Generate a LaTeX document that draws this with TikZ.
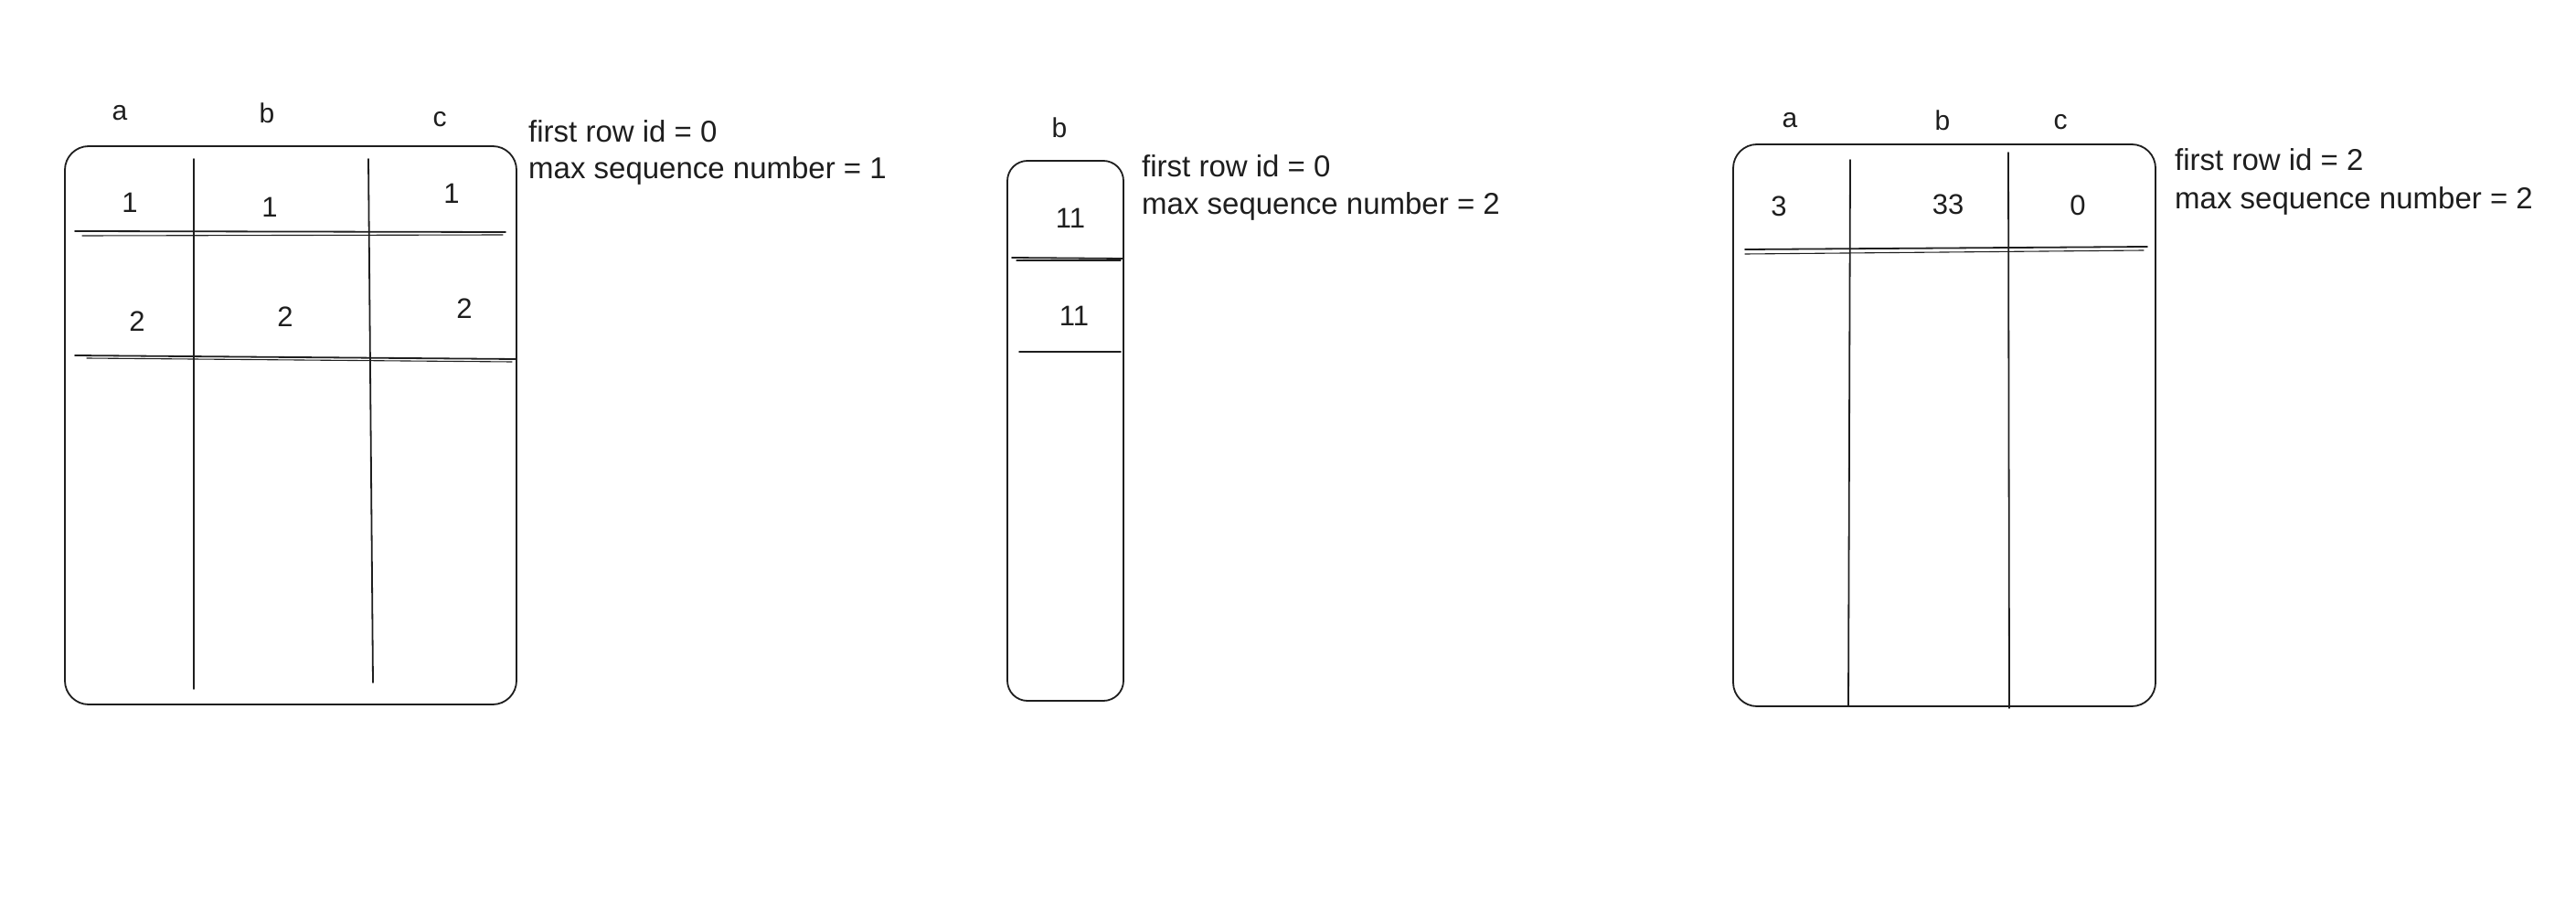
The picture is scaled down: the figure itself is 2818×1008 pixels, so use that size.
\documentclass[tikz,border=0pt]{standalone}
\usepackage{fontspec}
\setmainfont{Liberation Sans}
\definecolor{ink}{HTML}{1E1E1E}
\begin{document}
\begin{tikzpicture}[x=1pt,y=-1pt,
  ln/.style={draw=ink,line width=1.8pt,line cap=round},
  thin/.style={draw=ink,line width=1.1pt,line cap=round},
  tbox/.style={draw=ink,line width=1.8pt,rounded corners=26pt,inner sep=0pt},
  col/.style={anchor=base,text=ink,font=\fontsize{30}{33}\selectfont},
  cell/.style={anchor=base,text=ink,font=\fontsize{31}{34}\selectfont},
  note/.style={anchor=base west,text=ink,inner sep=0pt,font=\fontsize{33}{36}\selectfont}]
\useasboundingbox (0,0) rectangle (2818,1008);
\fill[white] (0,0) rectangle (2818,1008);

% ---------- table 1 ----------
\node[tbox,minimum width=494pt,minimum height=611pt] (t1) at (318,465.5) {};
\draw[ln] (212,174) -- (212,754);
\draw[ln] (403,174) -- (408,747);
\draw[ln] (82,253) -- (553,254);
\draw[thin] (90,258) -- (550,257);
\draw[ln] (82,389) -- (564,393);
\draw[thin] (95,392) -- (560,396);
\node[col] (t1a) at (131,132) {a};
\node[col] (t1b) at (292,135) {b};
\node[col] (t1c) at (481,139) {c};
\node[cell] (t1r1a) at (142,233) {1};
\node[cell] (t1r1b) at (295,238) {1};
\node[cell] (t1r1c) at (494,223) {1};
\node[cell] (t1r2a) at (150,362) {2};
\node[cell] (t1r2b) at (312,357) {2};
\node[cell] (t1r2c) at (508,348) {2};
\node[note] (t1n1) at (578,156) {first row id = 0};
\node[note] (t1n2) at (578,196) {max sequence number = 1};

% ---------- table 2 ----------
\node[tbox,rounded corners=22pt,minimum width=127pt,minimum height=591pt] (t2) at (1165.5,471.5) {};
\draw[ln] (1107,282) -- (1229,283);
\draw[thin] (1112,285) -- (1226,285);
\draw[ln] (1115,385) -- (1226,385);
\node[col] (t2b) at (1159,151) {b};
\node[cell] (t2r1) at (1171,250) {11};
\node[cell] (t2r2) at (1175,356) {11};
\node[note] (t2n1) at (1249,194) {first row id = 0};
\node[note] (t2n2) at (1249,235) {max sequence number = 2};

% ---------- table 3 ----------
\node[tbox,minimum width=462pt,minimum height=615pt] (t3) at (2127,465.5) {};
\draw[ln] (2024,175) -- (2022,773);
\draw[ln] (2197,167) -- (2198,775);
\draw[ln] (1909,273) -- (2349,270);
\draw[thin] (1909,278) -- (2345,274);
\node[col] (t3a) at (1958,140) {a};
\node[col] (t3b) at (2125,143) {b};
\node[col] (t3c) at (2254,142) {c};
\node[cell] (t3r1a) at (1946,237) {3};
\node[cell] (t3r1b) at (2131,235) {33};
\node[cell] (t3r1c) at (2273,236) {0};
\node[note] (t3n1) at (2379,187) {first row id = 2};
\node[note] (t3n2) at (2379,229) {max sequence number = 2};
\end{tikzpicture}
\end{document}
